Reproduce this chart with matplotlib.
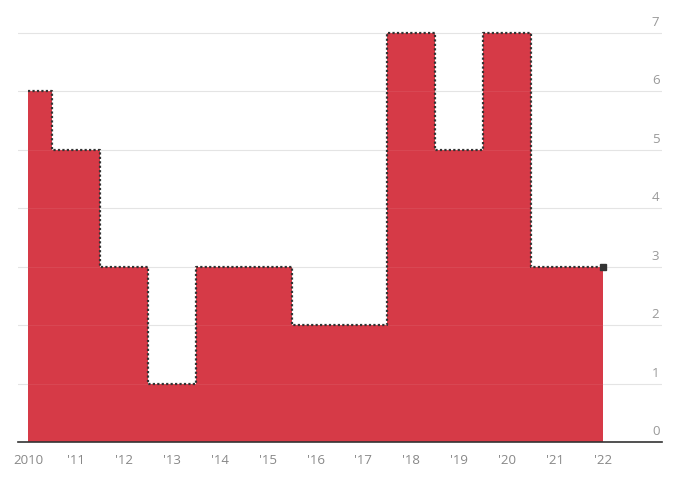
import matplotlib
matplotlib.use("Agg")
import matplotlib.pyplot as plt
import matplotlib.transforms as mtransforms

# yearly values (step drawn centred on each year)
years = [2010, 2011, 2012, 2013, 2014, 2015, 2016, 2017, 2018, 2019, 2020, 2021, 2022]
values = [6, 5, 3, 1, 3, 3, 2, 2, 7, 5, 7, 3, 3]
year_labels = ["2010", "'11", "'12", "'13", "'14", "'15", "'16", "'17", "'18", "'19", "'20", "'21", "'22"]
y_ticks = [0, 1, 2, 3, 4, 5, 6, 7]

plt.rcParams['font.family'] = ['Open Sans', 'DejaVu Sans']

fig = plt.figure(figsize=(6.75, 4.81), dpi=100)
ax = fig.add_axes([18 / 675, 1 - 443 / 481, 644 / 675, 413 / 481])

red = '#d63a47'
ax.fill_between(years, values, step='mid', color=red, lw=0, zorder=2)
ax.step(years, values, where='mid', color='#333333', ls=(0, (1, 1)), lw=1.6, zorder=3)
ax.plot(years[-1:], values[-1:], 's', color='#333333', ms=5, zorder=4)

ax.set_xlim(2009.79, 2023.23)
ax.set_ylim(0, 7.06)

# gridlines and right-side labels
trans = mtransforms.blended_transform_factory(ax.transAxes, ax.transData)
for t in y_ticks:
    if t > 0:
        ax.axhline(t, color='#e3e3e3', lw=0.8, zorder=1)
        ax.axhline(t, color='#ffffff', lw=0.6, alpha=0.08, zorder=2.5)
    ax.text(0.996, t + 0.08, str(t), transform=trans, ha='right', va='bottom',
            fontsize=9.5, color='#999999')

ax.axhline(0, color='#333333', lw=1.2, zorder=5, clip_on=False)

ax.set_xticks(years)
ax.set_xticklabels(year_labels, fontsize=9.5, color='#888888')
ax.tick_params(axis='x', length=0, pad=8)
ax.set_yticks([])
for s in ax.spines.values():
    s.set_visible(False)

fig.savefig('out.png', dpi=100)
